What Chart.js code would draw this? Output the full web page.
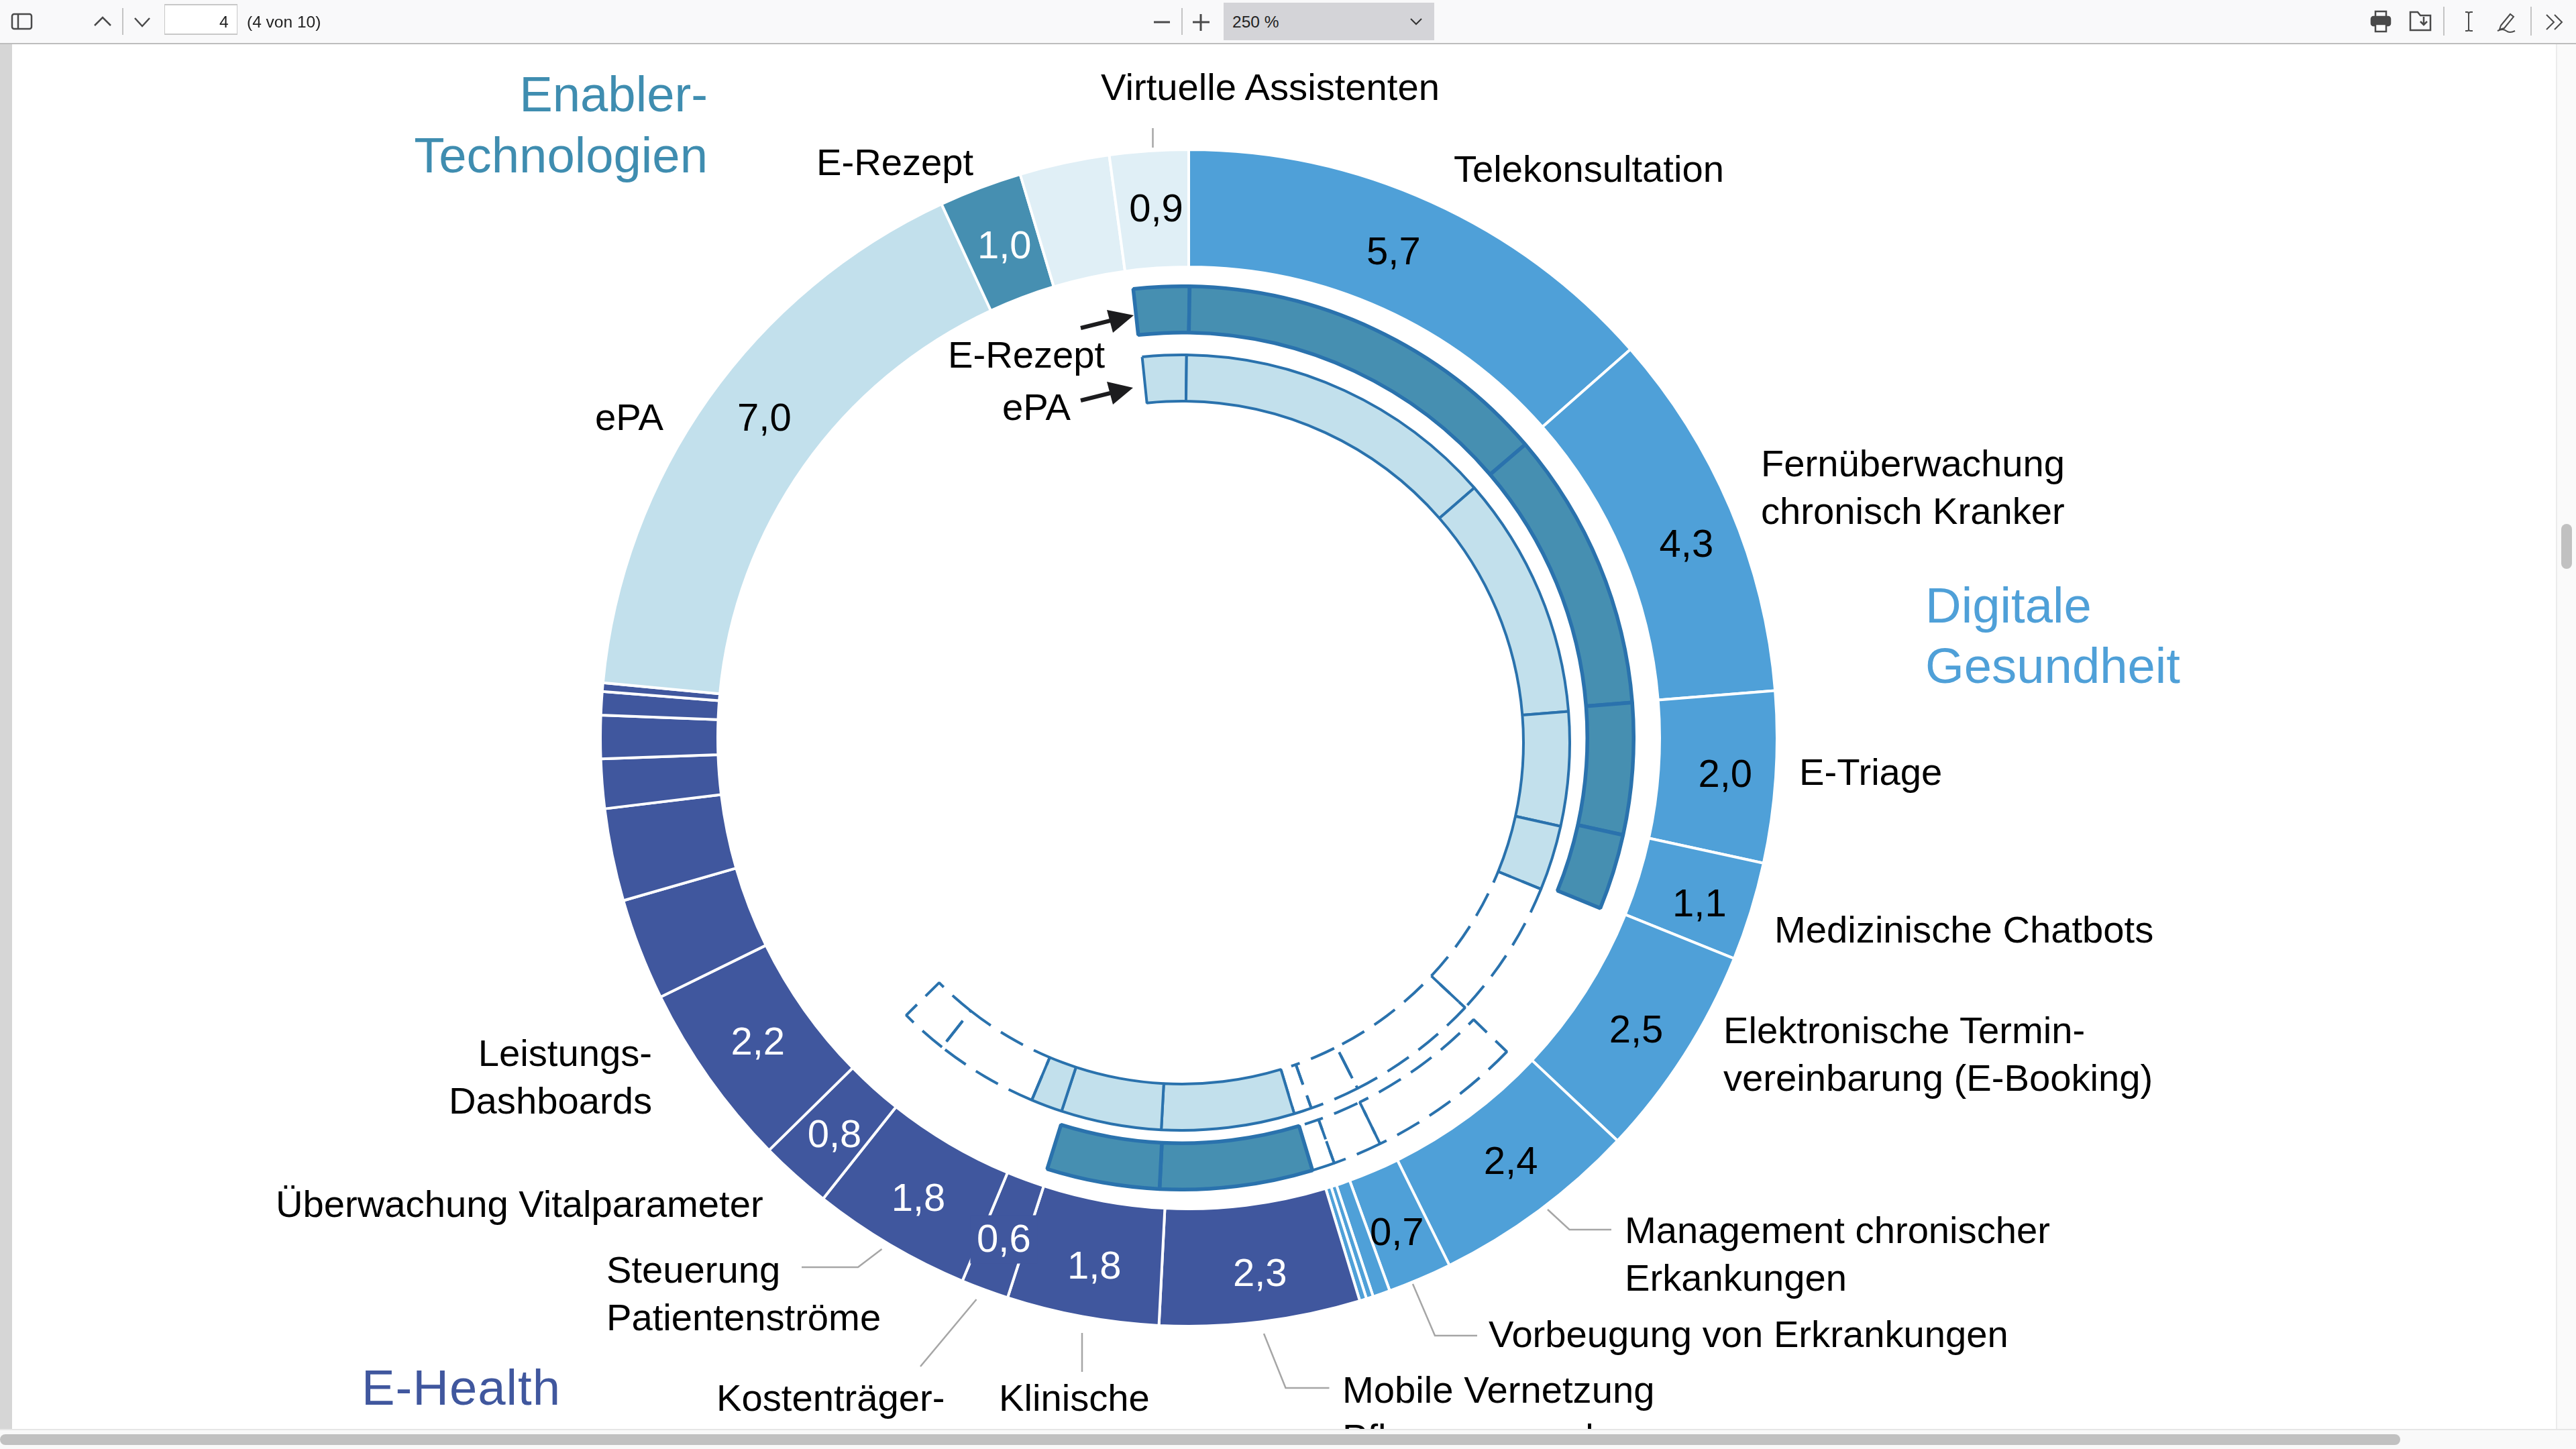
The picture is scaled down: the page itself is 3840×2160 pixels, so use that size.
<!DOCTYPE html>
<html lang="de">
<head>
<meta charset="utf-8">
<title>Digitale Gesundheit</title>
<script src="https://cdn.jsdelivr.net/npm/chart.js@4"></script>
<style>
    html, body { margin: 0; padding: 0; background: #fff; width: 3840px; height: 2160px; overflow: hidden; font-family: "Liberation Sans", sans-serif; color: #000; }
    #toolbar { position: absolute; left: 0; top: 0; width: 3840px; height: 64px; background: #f9f9fa; border-bottom: 2px solid #bdbdbd; }
    #toolbar span { position: absolute; font-size: 24.5px; line-height: 28px; color: #222; }
    #toolbar .sep { position: absolute; width: 2px; background: #c4c4c4; }
    #page { position: absolute; left: 0; top: 66px; width: 3840px; height: 2064px; overflow: hidden; background: #fff; }
    #inner { position: absolute; left: 0; top: -66px; width: 3840px; height: 2160px; }
    #inner canvas { position: absolute; }
    #inner svg { position: absolute; left: 0; top: 0; }
    .lbl { position: absolute; font-size: 56.2px; line-height: 71px; white-space: pre; }
    .head { position: absolute; font-size: 74.3px; line-height: 90px; white-space: pre; }
    #gutter { position: absolute; left: 0; top: 66px; width: 18px; height: 2064px; background: #d6d6d6; }
    #trackV { position: absolute; left: 3810px; top: 66px; width: 30px; height: 2064px; background: #fafafa; border-left: 2px solid #ececec; box-sizing: border-box; }
    #thumbV { position: absolute; left: 3818px; top: 781px; width: 16px; height: 67px; background: #c1c1c1; border-radius: 8px; }
    #bottom { position: absolute; left: 0; top: 2130px; width: 3840px; height: 30px; background: #f9f9f9; border-top: 2px solid #e6e6e6; box-sizing: border-box; }
    #thumbH { position: absolute; left: 0; top: 2138px; width: 3578px; height: 16px; background: #c1c1c1; border-radius: 8px; }
</style>
</head>
<body>
<div id="page"><div id="inner">
    <canvas id="outerRing"></canvas>
    <canvas id="rezeptRing"></canvas>
    <canvas id="epaRing"></canvas>
    <svg width="3840" height="2160" id="marks"></svg>
</div></div>
<div id="gutter"></div>
<div id="trackV"></div>
<div id="thumbV"></div>
<div id="bottom"></div>
<div id="thumbH"></div>
<div id="toolbar">
    <svg width="3840" height="64" style="position:absolute;left:0;top:0" fill="none" stroke="#4a4a4a" stroke-width="2.5">
        <rect x="18" y="21" width="29" height="22" rx="3"/><line x1="27" y1="21" x2="27" y2="43"/>
        <path d="M141 38l12-12 12 12M201 27l11 12 11-12"/>
        <path d="M2103 28l8 8 8-8" stroke-width="2"/>
        <path d="M1720 33h24M1778 33h25M1790 21v25" stroke-width="3"/>
        <rect x="3535" y="25" width="28" height="13" rx="3" fill="#4a4a4a"/><rect x="3541" y="17" width="16" height="9"/><rect x="3541" y="36" width="16" height="11" fill="#fff"/>
        <path d="M3593 18h11l4 5h15v22h-30zM3613 25v11M3608 32l5 5 5-5"/>
        <path d="M3675 18h3q2 0 2 3v23q0 2-2 2h-3M3686 18h-3q-3 0-3 3M3686 46h-3q-3 0-3-2" stroke-width="2"/>
        <path d="M3728 38l14-17 5 4-14 17-7 2zM3723 46q8-4 13 0t13 0" stroke-width="2"/>
        <path d="M3796 22l11 11-11 11M3808 22l11 11-11 11" stroke-width="2"/>
    </svg>
    <div class="sep" style="left:182px;top:12px;height:40px"></div>
    <div style="position:absolute;left:245px;top:6px;width:109px;height:46px;background:#fff;border:2px solid #c8c8c8;border-width:2px 1px;box-sizing:border-box"></div>
    <span style="left:327px;top:19px">4</span>
    <span style="left:368px;top:19px">(4 von 10)</span>
    <div class="sep" style="left:1761px;top:12px;height:40px"></div>
    <div style="position:absolute;left:1824px;top:4px;width:314px;height:56px;background:#d4d4d8"></div>
    <span style="left:1837px;top:19px">250 %</span>
    <svg width="40" height="30" style="position:absolute;left:2095px;top:18px" fill="none" stroke="#333" stroke-width="2"><path d="M8 10l8 8 8-8"/></svg>
    <div class="sep" style="left:3642px;top:10px;height:43px"></div>
    <div class="sep" style="left:3772px;top:10px;height:43px"></div>
</div>

<script>
// Aeusserer Ring: Anteile je Anwendung, im Uhrzeigersinn ab 12 Uhr
const sliceNames = ['Telekonsultation', 'Fernüberwachung chronisch Kranker', 'E-Triage', 'Medizinische Chatbots',
    'Elektronische Terminvereinbarung (E-Booking)', 'Management chronischer Erkankungen', 'Vorbeugung von Erkrankungen',
    '', '', '', 'Mobile Vernetzung Pflegepersonal', 'Klinische', 'Kostenträger', 'Steuerung Patientenströme',
    'Überwachung Vitalparameter', 'Leistungs-Dashboards', '', '', '', '', '', '', 'ePA', 'E-Rezept', '', 'Virtuelle Assistenten'];
const sliceValues = [5.7, 4.3, 1.98, 1.14, 2.48, 2.4, 0.74, 0.2, 0.08, 0.08, 2.32, 1.76, 0.55, 1.85, 0.83, 2.15, 1.18, 1.07, 0.57, 0.5, 0.27, 0.1, 7.0, 0.96, 1.04, 0.91];
const sliceLabels = ['5,7', '4,3', '2,0', '1,1', '2,5', '2,4', '0,7', '', '', '', '2,3', '1,8', '0,6', '1,8', '0,8', '2,2', '', '', '', '', '', '', '7,0', '1,0', '', '0,9'];
const sliceGroups = ['dg', 'dg', 'dg', 'dg', 'dg', 'dg', 'dg', 'dg', 'dg', 'dg', 'eh', 'eh', 'eh', 'eh', 'eh', 'eh', 'eh', 'eh', 'eh', 'eh', 'eh', 'eh', 'epa', 'rez', 'en', 'en'];

// Innere Ringe: durchgezogen, gestrichelt oder leer
const rezeptValues = [0.84, 5.68, 4.22, 1.98, 1.14, 2.56, 2.34, 0.74, 0.34, 2.3, 1.7, 18.32];
const rezeptKinds = ['s', 's', 's', 's', 's', 'g', 'd', 'd', 'd', 's', 's', 'g'];
const epaValues = [0.77, 5.65, 4.27, 2.0, 1.14, 2.45, 2.34, 0.87, 0.31, 2.33, 1.76, 0.55, 1.81, 0.83, 15.08];
const epaKinds = ['s', 's', 's', 's', 's', 'd', 'd', 'd', 'd', 's', 's', 's', 'd', 'd', 'g'];

const groupColors = { dg: '#4fa0d8', eh: '#40579e', epa: '#c2e0ec', rez: '#468fb1', en: '#e0eff6' };
const darkText = { dg: true, eh: false, epa: true, rez: false, en: true };
const ringLine = '#2a72ad';
const fontFamily = '"Liberation Sans", sans-serif';
// Zahlen sitzen nicht genau in der Segmentmitte
const labelNudges = { 0: [-20, -5], 1: [15, 20], 2: [12, 2], 3: [7, 15], 4: [2, 10], 5: [10, -2], 6: [0, 12], 10: [10, 15],
    11: [2, 12], 12: [-2, 7], 13: [-2, 7], 14: [0, 5], 15: [2, -2], 22: [12, -20], 23: [5, 5], 25: [5, 0] };

const valueLabelPlugin = {
    id: 'valueLabels',
    afterDatasetsDraw(chart) {
        const ctx = chart.ctx;
        ctx.save();
        ctx.font = '58px ' + fontFamily;
        ctx.textAlign = 'center';
        ctx.textBaseline = 'middle';
        chart.getDatasetMeta(0).data.forEach((arc, i) => {
            if (!sliceLabels[i]) return;
            const p = arc.getCenterPoint();
            const n = labelNudges[i] || [0, 0];
            // 0,6 ist breiter als sein Segment, Trennlinien dort aussparen
            if (sliceLabels[i] === '0,6') {
                ctx.fillStyle = groupColors.eh;
                ctx.fillRect(p.x + n[0] - 50, p.y + n[1] - 36, 100, 72);
            }
            ctx.fillStyle = darkText[sliceGroups[i]] ? '#000' : '#fff';
            ctx.fillText(sliceLabels[i], p.x + n[0], p.y + n[1] + 2);
        });
        ctx.restore();
    }
};

function makeRing(id, cx, cy, outerR, innerR, rotation, labels, values, ds, plugins) {
    const canvas = document.getElementById(id);
    const size = Math.ceil(2 * outerR + ds.maxBorder);
    canvas.width = size;
    canvas.height = size;
    canvas.style.left = (cx - size / 2) + 'px';
    canvas.style.top = (cy - size / 2) + 'px';
    new Chart(canvas, {
        type: 'doughnut',
        data: {
            labels: labels,
            datasets: [{
                data: values,
                backgroundColor: ds.fill,
                borderColor: ds.line,
                borderWidth: ds.width,
                borderDash: ds.dash,
                hoverOffset: 0,
                hoverBorderWidth: 0
            }]
        },
        options: {
            responsive: false,
            animation: false,
            rotation: rotation,
            cutout: (innerR / outerR * 100) + '%',
            layout: { padding: 0 },
            plugins: { legend: { display: false }, tooltip: { enabled: false } }
        },
        plugins: plugins || []
    });
}

makeRing('outerRing', 1772, 1099.5, 877, 702, 0, sliceNames, sliceValues, {
    maxBorder: 4,
    fill: sliceGroups.map(g => groupColors[g]),
    line: '#ffffff',
    width: 4,
    dash: []
}, [valueLabelPlugin]);

function innerRingStyle(kinds, fillColor, solidWidth) {
    return {
        maxBorder: solidWidth,
        fill: kinds.map(k => k === 's' ? fillColor : 'rgba(0,0,0,0)'),
        line: kinds.map(k => k === 'g' ? 'rgba(0,0,0,0)' : ringLine),
        width: kinds.map(k => k === 'g' ? 0 : (k === 's' ? solidWidth : 4)),
        dash: ctx => kinds[ctx.dataIndex] === 'd' ? [38, 18] : []
    };
}
makeRing('rezeptRing', 1762, 1100, 673, 604, -6.2, rezeptKinds.map(() => 'E-Rezept'), rezeptValues, innerRingStyle(rezeptKinds, groupColors.rez, 5.5));
makeRing('epaRing', 1762, 1107, 578, 509, -5.9, epaKinds.map(() => 'ePA'), epaValues, innerRingStyle(epaKinds, groupColors.epa, 4));

// Beschriftungen
const sideLabels = [
    ['Virtuelle Assistenten', 1641, 130], ['E-Rezept', 1217, 242], ['Telekonsultation', 2167, 252],
    ['Fernüberwachung\nchronisch Kranker', 2625, 691], ['E-Triage', 2682, 1151], ['Medizinische Chatbots', 2645, 1386],
    ['Elektronische Termin-\nvereinbarung (E-Booking)', 2569, 1536], ['Management chronischer\nErkankungen', 2422, 1834],
    ['Vorbeugung von Erkrankungen', 2219, 1989], ['Mobile Vernetzung\nPflegepersonal', 2001, 2072], ['ePA', 887, 622],
    ['E-Rezept', 1413, 529], ['ePA', 1494, 607], ['Überwachung Vitalparameter', 411, 1795],
    ['Steuerung\nPatientenströme', 904, 1893], ['Kostenträger-', 1068, 2084], ['Klinische', 1489, 2084]
];
const inner = document.getElementById('inner');
sideLabels.forEach(([text, x, y]) => {
    const el = document.createElement('div');
    el.className = 'lbl';
    el.textContent = text;
    el.style.left = x + 'px';
    el.style.top = (y - 36.5) + 'px';
    inner.appendChild(el);
});
const dash = document.createElement('div');
dash.className = 'lbl';
dash.textContent = 'Leistungs-\nDashboards';
dash.style.cssText = 'right:' + (3840 - 972) + 'px;top:' + (1570 - 36.5) + 'px;text-align:right';
inner.appendChild(dash);

[['Enabler-\nTechnologien', 'right:' + (3840 - 1055) + 'px;top:95px;text-align:right;line-height:91px;color:#3f8db0'],
 ['Digitale\nGesundheit', 'left:2870px;top:858px;color:#4fa0d8'],
 ['E-Health', 'left:539px;top:2024px;letter-spacing:1px;color:#40579e']].forEach(([text, css]) => {
    const el = document.createElement('div');
    el.className = 'head';
    el.textContent = text;
    el.style.cssText = css;
    inner.appendChild(el);
});

// Hinweislinien und Pfeile
const leaderLines = [
    '1718.5,191 1718.5,220', '2307,1803 2339.5,1833 2402,1833', '2106,1914 2139,1991 2202,1991',
    '1884,1988 1916.5,2069 1981.5,2069', '1613,1987 1613,2045', '1455.5,1937 1372,2037', '1314.5,1862 1279,1889 1195,1889'
];
const arrows = [
    ['1611,489 1655,478', '1690,470 1650,462 1659,496'],
    ['1611,597 1655,586', '1689,578 1650,569 1659,603']
];
const svg = document.getElementById('marks');
function addSvg(tag, attrs) {
    const el = document.createElementNS('http://www.w3.org/2000/svg', tag);
    Object.keys(attrs).forEach(k => el.setAttribute(k, attrs[k]));
    svg.appendChild(el);
}
leaderLines.forEach(p => addSvg('polyline', { points: p, fill: 'none', stroke: '#a6a6a6', 'stroke-width': 2.5 }));
arrows.forEach(([line, head]) => {
    addSvg('polyline', { points: line, fill: 'none', stroke: '#1c1c1e', 'stroke-width': 6 });
    addSvg('polygon', { points: head, fill: '#1c1c1e' });
});
</script>
</body>
</html>
